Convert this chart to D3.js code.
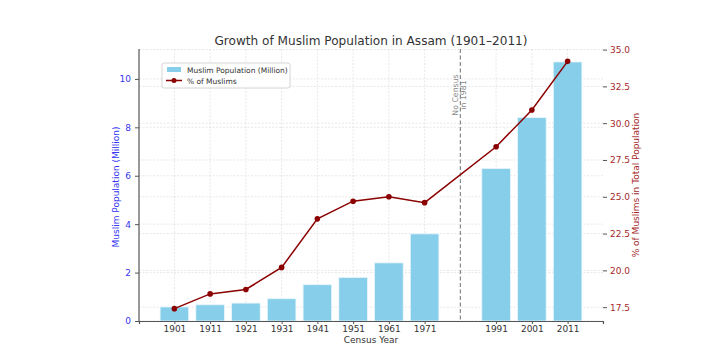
<!DOCTYPE html>
<html>
<head>
<meta charset="utf-8">
<script src="https://cdn.jsdelivr.net/npm/d3@7"></script>
<style>
  body { margin: 0; background: #fff; }
  text { font-family: "DejaVu Sans", sans-serif; }
</style>
</head>
<body>
<svg id="chart" width="708" height="353"></svg>
<script>
var years = [1901, 1911, 1921, 1931, 1941, 1951, 1961, 1971, 1991, 2001, 2011];
var muslimPop = [0.58, 0.67, 0.74, 0.92, 1.5, 1.8, 2.4, 3.6, 6.3, 8.4, 10.7];
var muslimPct = [17.4, 18.4, 18.7, 20.2, 23.5, 24.7, 25.0, 24.6, 28.4, 30.9, 34.2];
var leftTicks = [0, 2, 4, 6, 8, 10];
var rightTicks = [17.5, 20.0, 22.5, 25.0, 27.5, 30.0, 32.5, 35.0];
var noCensusYear = 1981;

var svg = d3.select("#chart"),
    margin = {top: 49, right: 105, bottom: 32, left: 139},
    width = +svg.attr("width") - margin.left - margin.right,
    height = +svg.attr("height") - margin.top - margin.bottom,
    g = svg.append("g").attr("transform", "translate(" + margin.left + "," + margin.top + ")");

var barW = 8;
var x = d3.scaleLinear()
    .domain([1897 - 5.9, 2015 + 5.9])
    .range([0, width]);

var yL = d3.scaleLinear()
    .domain([0, 10.7 * 1.05])
    .range([height, 0]);

var yR = d3.scaleLinear()
    .domain([16.56, 35.04])
    .range([height, 0]);

var blue = "#3535f5", red = "#a52a2a", lineRed = "#8b0000";

// grids
var grid = g.append("g");
grid.selectAll(".vg").data(years).enter().append("line")
    .attr("x1", function(d) { return x(d); }).attr("x2", function(d) { return x(d); })
    .attr("y1", 0).attr("y2", height)
    .attr("stroke", "#d8d8d8").attr("stroke-width", 0.6).attr("stroke-dasharray", "2,1.5");
grid.selectAll(".hl").data(leftTicks).enter().append("line")
    .attr("x1", 0).attr("x2", width)
    .attr("y1", function(d) { return yL(d); }).attr("y2", function(d) { return yL(d); })
    .attr("stroke", "#d8d8d8").attr("stroke-width", 0.6).attr("stroke-dasharray", "2,1.5");
grid.selectAll(".hr").data(rightTicks).enter().append("line")
    .attr("x1", 0).attr("x2", width)
    .attr("y1", function(d) { return yR(d); }).attr("y2", function(d) { return yR(d); })
    .attr("stroke", "#d8d8d8").attr("stroke-width", 0.6).attr("stroke-dasharray", "2,1.5");

// bars
g.selectAll(".bar").data(years).enter().append("rect")
    .attr("x", function(d) { return x(d - barW / 2); })
    .attr("width", x(barW) - x(0))
    .attr("y", function(d, i) { return yL(muslimPop[i]); })
    .attr("height", function(d, i) { return height - yL(muslimPop[i]); })
    .attr("fill", "#87ceeb")
    .attr("stroke", "#e8f6fb").attr("stroke-width", 0.8);

// no census line
g.append("line")
    .attr("x1", x(noCensusYear)).attr("x2", x(noCensusYear))
    .attr("y1", 0).attr("y2", height)
    .attr("stroke", "#888").attr("stroke-width", 1.2).attr("stroke-dasharray", "4,2.5");
var nc = g.append("text")
    .attr("transform", "translate(" + x(noCensusYear) + "," + (95 - margin.top) + ") rotate(-90)")
    .attr("text-anchor", "middle")
    .attr("fill", "#888").attr("font-size", 7.8);
nc.append("tspan").attr("x", 0).attr("dy", "-0.35em").text("No Census");
nc.append("tspan").attr("x", 0).attr("dy", "1.05em").text("in 1981");

// line
var line = d3.line()
    .x(function(d, i) { return x(years[i]); })
    .y(function(d) { return yR(d); });
g.append("path").datum(muslimPct)
    .attr("fill", "none").attr("stroke", lineRed).attr("stroke-width", 1.5)
    .attr("d", line);
g.selectAll(".pt").data(muslimPct).enter().append("circle")
    .attr("cx", function(d, i) { return x(years[i]); })
    .attr("cy", function(d) { return yR(d); })
    .attr("r", 2.8).attr("fill", lineRed);

// axes
var xAxis = d3.axisBottom(x).tickValues(years).tickFormat(d3.format("d")).tickSize(3).tickPadding(2);
var gx = g.append("g").attr("transform", "translate(0," + height + ")").call(xAxis);
gx.select(".domain").attr("stroke", "#555").attr("stroke-width", 1.2);
gx.selectAll(".tick line").attr("stroke", "#555");
gx.selectAll(".tick text").attr("fill", "#333").attr("font-size", 9).attr("font-family", "DejaVu Sans");

var gl = g.append("g").call(d3.axisLeft(yL).tickValues(leftTicks).tickFormat(d3.format("d")).tickSize(4).tickPadding(4));
gl.select(".domain").attr("stroke", "#555").attr("stroke-width", 1.2).attr("d", "M0," + height + "V0");
gl.selectAll(".tick line").attr("stroke", "#555");
gl.selectAll(".tick text").attr("fill", blue).attr("font-size", 9).attr("font-family", "DejaVu Sans");

var gr = g.append("g").attr("transform", "translate(" + width + ",0)")
    .call(d3.axisRight(yR).tickValues(rightTicks).tickFormat(d3.format(".1f")).tickSize(4).tickPadding(3));
gr.select(".domain").remove();
gr.selectAll(".tick line").attr("stroke", "#555");
gr.selectAll(".tick text").attr("fill", red).attr("font-size", 9).attr("font-family", "DejaVu Sans");

// labels
svg.append("text")
    .attr("x", margin.left + width / 2).attr("y", 45)
    .attr("text-anchor", "middle").attr("fill", "#333").attr("font-size", 12.1)
    .text("Growth of Muslim Population in Assam (1901\u20132011)");
svg.append("text")
    .attr("x", margin.left + width / 2).attr("y", 343)
    .attr("text-anchor", "middle").attr("fill", "#333").attr("font-size", 9)
    .text("Census Year");
svg.append("text")
    .attr("transform", "translate(119," + (margin.top + height / 2 + 2) + ") rotate(-90)")
    .attr("text-anchor", "middle").attr("fill", blue).attr("font-size", 9)
    .text("Muslim Population (Million)");
svg.append("text")
    .attr("transform", "translate(639," + (margin.top + height / 2) + ") rotate(-90)")
    .attr("text-anchor", "middle").attr("fill", red).attr("font-size", 9)
    .text("% of Muslims in Total Population");

// legend
var lg = svg.append("g").attr("transform", "translate(162,63)");
lg.append("rect").attr("width", 128).attr("height", 25).attr("rx", 2)
    .attr("fill", "#fff").attr("fill-opacity", 0.85).attr("stroke", "#d5d5d5");
lg.append("rect").attr("x", 5).attr("y", 4).attr("width", 14).attr("height", 5).attr("fill", "#87ceeb");
lg.append("text").attr("x", 25).attr("y", 10).attr("font-size", 7.5).attr("fill", "#333")
    .text("Muslim Population (Million)");
lg.append("line").attr("x1", 4).attr("x2", 20).attr("y1", 17.5).attr("y2", 17.5)
    .attr("stroke", lineRed).attr("stroke-width", 1.5);
lg.append("circle").attr("cx", 12).attr("cy", 17.5).attr("r", 2.5).attr("fill", lineRed);
lg.append("text").attr("x", 25).attr("y", 21).attr("font-size", 7.5).attr("fill", "#333")
    .text("% of Muslims");
</script>
</body>
</html>
